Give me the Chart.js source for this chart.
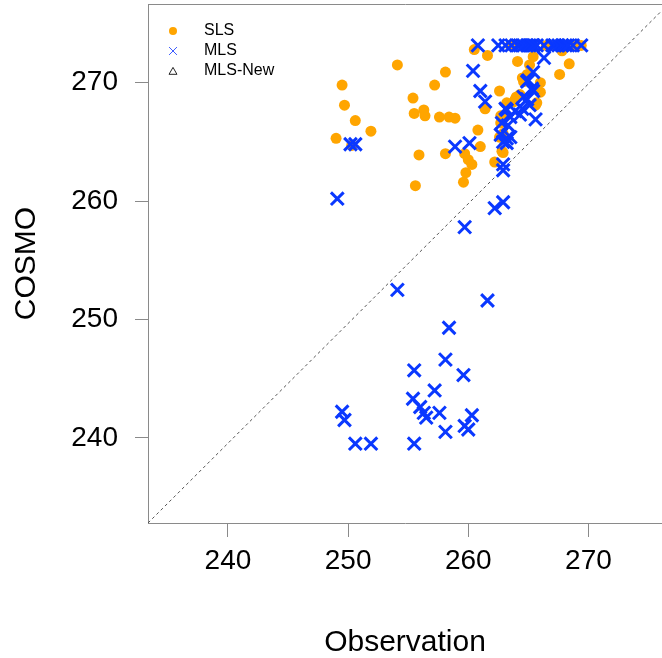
<!DOCTYPE html>
<html>
<head>
<meta charset="utf-8">
<script src="https://cdn.jsdelivr.net/npm/chart.js@4.4.1/dist/chart.umd.min.js"></script>
<style>
  html, body { margin: 0; padding: 0; background: #fff; }
  #wrap { width: 662px; height: 658px; position: relative; }
</style>
</head>
<body>
<div id="wrap"><canvas id="chart"></canvas></div>
<script>
// values (Observation vs COSMO)
const slsObs = [254.1, 258.1, 249.5, 257.2, 249.7, 255.4, 250.6, 251.9, 249.0, 250.3,
  255.5, 256.3, 256.4, 257.6, 258.4, 258.9, 255.9, 258.1, 255.6, 261.0,
  259.7, 260.0, 260.3, 259.8, 259.6, 262.2, 262.9, 262.6, 260.8, 261.4,
  266.0, 265.7, 264.3, 263.9, 262.7, 262.7, 262.6, 260.5, 261.6, 264.1,
  265.1, 265.4, 268.4, 267.6, 265.6, 264.9, 264.6, 264.0, 263.8, 263.2,
  263.1, 266.0, 264.5, 262.9, 263.5, 266.5, 267.0, 268.0, 268.6, 269.4,
  267.8, 262.8];
const slsCosmo = [271.5, 270.9, 269.8, 269.8, 268.1, 268.7, 266.8, 265.9, 265.3, 264.7,
  267.4, 267.7, 267.2, 267.1, 267.1, 267.0, 263.9, 264.0, 261.3, 264.6,
  264.0, 263.5, 263.1, 262.4, 261.6, 263.3, 264.1, 269.3, 266.0, 267.8,
  269.2, 268.3, 269.0, 268.6, 267.2, 266.6, 265.4, 272.8, 272.3, 271.8,
  271.5, 272.2, 271.6, 270.7, 268.1, 270.7, 270.1, 268.8, 268.4, 268.3,
  267.3, 270.0, 270.4, 265.7, 273.15, 273.15, 273.15, 273.15, 273.15, 273.15,
  272.7, 264.2];

const mlsObs = [260.8, 262.5, 263.1, 263.6, 264.1, 264.3, 264.6, 264.9, 265.1, 265.3,
  265.4, 265.7, 266.3, 267.0, 267.2, 267.5, 267.8, 268.1, 268.3, 268.7,
  269.4,
  260.4, 266.3, 265.4, 265.0, 264.9, 265.3, 265.4, 264.6, 264.9, 265.1,
  264.5, 261.0, 261.4, 263.2, 263.1, 263.9, 263.5, 264.3, 265.6, 262.8,
  263.3, 262.7, 263.2, 263.5, 262.9, 263.2, 258.9, 260.1, 262.9, 262.9,
  262.9, 262.2, 259.7, 250.2, 250.6, 249.1,
  254.1, 261.6, 258.4, 258.1, 255.5, 259.6, 257.2, 255.4, 256.0, 256.3,
  256.5, 257.6, 260.3, 259.7, 260.0, 258.1, 249.5, 249.7, 250.6, 251.9,
  255.5];
const mlsCosmo = [273.15, 273.15, 273.15, 273.15, 273.15, 273.15, 273.15, 273.15, 273.15, 273.15,
  273.15, 273.15, 273.15, 273.15, 273.15, 273.15, 273.15, 273.15, 273.15, 273.15,
  273.15,
  271.0, 272.1, 270.9, 270.2, 270.1, 269.5, 269.3, 268.8, 268.6, 268.1,
  267.8, 269.3, 268.4, 267.7, 267.8, 267.6, 267.1, 267.3, 266.9, 266.6,
  266.4, 265.6, 265.3, 265.4, 265.0, 264.9, 264.6, 264.9, 263.1, 262.6,
  259.9, 259.4, 257.8, 264.8, 264.8, 260.2,
  252.5, 251.6, 249.3, 246.6, 245.7, 245.3, 244.0, 243.3, 242.6, 242.1,
  241.7, 242.1, 241.9, 241.0, 240.7, 240.5, 242.2, 241.5, 239.5, 239.5,
  239.5];

const newObs = [];
const newCosmo = [];

const diagObs = [233.35, 276.12];
const diagCosmo = [232.8, 276.1];

const xTicks = [240, 250, 260, 270];
const yTicks = [240, 250, 260, 270];
const seriesNames = ['SLS', 'MLS', 'MLS-New'];

const toPoints = (xs, ys) => xs.map((x, i) => ({ x: x, y: ys[i] }));

const axisGray = '#8a8a8a';
const font = 'Liberation Sans, Arial, Helvetica, sans-serif';

// fixed box sizes so the plot area lands where the original one is
const fitTo = (w, h) => s => {
  if (w !== null) s.width = w;
  if (h !== null) s.height = h;
  s.paddingTop = 0; s.paddingBottom = 0; s.paddingLeft = 0; s.paddingRight = 0;
};

// legend sits inside the plot, top left
const cornerLegend = {
  id: 'cornerLegend',
  afterDraw(chart) {
    const ctx = chart.ctx;
    const marks = [
      { pointStyle: 'circle', radius: 4, borderWidth: 0, fill: '#FFA500', stroke: '#FFA500' },
      { pointStyle: 'crossRot', radius: 5.6, borderWidth: 1, fill: 'rgba(0,0,0,0)', stroke: '#3d5cff' },
      { pointStyle: 'triangle', radius: 4.6, borderWidth: 1, fill: 'rgba(0,0,0,0)', stroke: '#222' }
    ];
    ctx.save();
    ctx.font = '16px ' + font;
    ctx.textBaseline = 'middle';
    seriesNames.forEach((name, i) => {
      const y = 31 + i * 20;
      const m = marks[i];
      ctx.fillStyle = m.fill;
      ctx.strokeStyle = m.stroke;
      ctx.lineWidth = m.borderWidth;
      Chart.helpers.drawPoint(ctx, { pointStyle: m.pointStyle, radius: m.radius, borderWidth: m.borderWidth, rotation: 0 }, 173, y + (i === 2 ? 1 : 0));
      ctx.fillStyle = '#000';
      ctx.fillText(name, 204, y);
    });
    ctx.restore();
  }
};

new Chart(document.getElementById('chart'), {
  type: 'scatter',
  data: {
    datasets: [
      {
        label: seriesNames[0],
        data: toPoints(slsObs, slsCosmo),
        pointStyle: 'circle',
        pointRadius: 5.5,
        pointBorderWidth: 0,
        backgroundColor: '#FFA500',
        borderColor: '#FFA500',
        order: 2
      },
      {
        label: seriesNames[1],
        data: toPoints(mlsObs, mlsCosmo),
        pointStyle: 'crossRot',
        pointRadius: 9,
        pointBorderWidth: 3,
        borderColor: '#0a38ff',
        backgroundColor: '#0a38ff',
        order: 1
      },
      {
        label: seriesNames[2],
        data: toPoints(newObs, newCosmo),
        pointStyle: 'triangle',
        pointRadius: 5,
        borderColor: '#000',
        backgroundColor: 'rgba(0,0,0,0)',
        order: 0
      },
      {
        label: '1:1',
        type: 'line',
        data: toPoints(diagObs, diagCosmo),
        borderColor: '#555',
        borderWidth: 1,
        borderDash: [3, 3],
        pointRadius: 0,
        fill: false,
        order: 3
      }
    ]
  },
  options: {
    responsive: true,
    maintainAspectRatio: false,
    animation: false,
    layout: { padding: 0, autoPadding: false },
    plugins: { legend: { display: false }, tooltip: { enabled: false } },
    scales: {
      x: {
        type: 'linear',
        position: 'bottom',
        min: 233.35,
        max: 276.12,
        afterBuildTicks: s => { s.ticks = xTicks.map(v => ({ value: v })); },
        afterFit: fitTo(null, 135),
        grid: { display: true, drawOnChartArea: false, tickLength: 14, tickColor: axisGray, tickWidth: 1 },
        border: { display: true, color: axisGray, width: 1 },
        ticks: { color: '#000', font: { family: font, size: 28 }, padding: 7, maxRotation: 0, autoSkip: false },
        title: { display: true, text: 'Observation', color: '#000', font: { family: font, size: 30, lineHeight: 1 }, padding: { top: 0, bottom: 0 } }
      },
      x2: {
        type: 'linear',
        position: 'top',
        min: 233.35,
        max: 276.12,
        afterFit: fitTo(null, 4),
        grid: { display: false },
        border: { display: true, color: axisGray, width: 1 },
        ticks: { display: false }
      },
      y: {
        type: 'linear',
        position: 'left',
        min: 232.8,
        max: 276.65,
        afterBuildTicks: s => { s.ticks = yTicks.map(v => ({ value: v })); },
        afterFit: fitTo(148, null),
        grid: { display: true, drawOnChartArea: false, tickLength: 13, tickColor: axisGray, tickWidth: 1 },
        border: { display: true, color: axisGray, width: 1 },
        ticks: { color: '#000', font: { family: font, size: 28 }, padding: 17, autoSkip: false },
        title: { display: true, text: 'COSMO', color: '#000', font: { family: font, size: 30, lineHeight: 1 }, padding: { top: 12, bottom: 0 } }
      }
    }
  },
  plugins: [cornerLegend]
});
</script>
</body>
</html>
